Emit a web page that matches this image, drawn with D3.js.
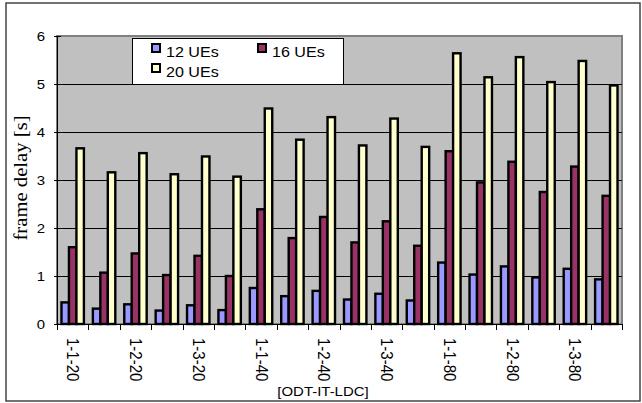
<!DOCTYPE html>
<html>
<head>
<meta charset="utf-8">
<script src="https://cdn.jsdelivr.net/npm/d3@7"></script>
<style>
  body { margin: 0; background: #fff; }
  text { font-family: "Liberation Sans", Arial, sans-serif; fill: #000; }
</style>
</head>
<body>
<div id="chart"></div>
<script>
// Data
const tickLabels = ['1-1-20', '', '1-2-20', '', '1-3-20', '', '1-1-40', '', '1-2-40', '',
  '1-3-40', '', '1-1-80', '', '1-2-80', '', '1-3-80', ''];
const seriesNames = ['12 UEs', '16 UEs', '20 UEs'];
const ue12 = [0.45, 0.32, 0.41, 0.28, 0.39, 0.29, 0.75, 0.58, 0.69, 0.51, 0.63, 0.49, 1.28, 1.03, 1.20, 0.97, 1.15, 0.93];
const ue16 = [1.60, 1.07, 1.47, 1.02, 1.42, 1.00, 2.39, 1.79, 2.23, 1.70, 2.14, 1.63, 3.60, 2.95, 3.38, 2.75, 3.28, 2.67];
const ue20 = [3.66, 3.16, 3.56, 3.12, 3.49, 3.07, 4.49, 3.84, 4.31, 3.72, 4.28, 3.69, 5.64, 5.14, 5.56, 5.04, 5.48, 4.97];
const yTicks = [0, 1, 2, 3, 4, 5, 6];

const colors = ['#9999ff', '#993366', '#ffffcc'];
const values = [ue12, ue16, ue20];
const groups = tickLabels.map((d, i) => i);

const width = 642;
const height = 403;
const plot = { left: 57, right: 622, top: 36, bottom: 324 };
const sx = 1.15; // the source text looks stretched sideways

const svg = d3.select('#chart').append('svg')
  .attr('width', width)
  .attr('height', height);

// outer chart border
svg.append('rect')
  .attr('x', 6).attr('y', 3)
  .attr('width', 634).attr('height', 398)
  .attr('fill', 'white')
  .attr('stroke', '#444')
  .attr('stroke-width', 1.5);

// scales
const xScale = d3.scaleBand().domain(groups).range([plot.left, plot.right]).padding(0);
const xInner = d3.scaleBand().domain(d3.range(seriesNames.length))
  .range([0, xScale.bandwidth()]).paddingInner(0).paddingOuter(0.6);
const yScale = d3.scaleLinear().domain([0, 6]).range([plot.bottom, plot.top]);

// plot area
svg.append('rect')
  .attr('x', plot.left).attr('y', plot.top)
  .attr('width', plot.right - plot.left).attr('height', plot.bottom - plot.top)
  .attr('fill', '#c0c0c0')
  .attr('stroke', '#808080')
  .attr('stroke-width', 2);

// gridlines
svg.append('g').selectAll('line')
  .data(yTicks.filter(t => t > 0 && t < 6))
  .enter().append('line')
  .attr('x1', plot.left).attr('x2', plot.right)
  .attr('y1', d => Math.round(yScale(d)) + 0.5)
  .attr('y2', d => Math.round(yScale(d)) + 0.5)
  .attr('stroke', '#000');

// bars
const bars = svg.append('g');
groups.forEach(gi => {
  seriesNames.forEach((s, si) => {
    const v = values[si][gi];
    bars.append('rect')
      .attr('x', xScale(gi) + xInner(si))
      .attr('y', yScale(v))
      .attr('width', xInner.bandwidth())
      .attr('height', yScale(0) - yScale(v))
      .attr('fill', colors[si])
      .attr('stroke', '#000')
      .attr('stroke-width', 2.4);
  });
});

// y axis
const yAxis = svg.append('g');
yAxis.append('line')
  .attr('x1', plot.left + 0.5).attr('x2', plot.left + 0.5)
  .attr('y1', plot.top).attr('y2', plot.bottom)
  .attr('stroke', '#000');
yAxis.selectAll('.tick')
  .data(yTicks)
  .enter().append('line')
  .attr('x1', plot.left - 3).attr('x2', plot.left + 4)
  .attr('y1', d => Math.round(yScale(d)) + 0.5)
  .attr('y2', d => Math.round(yScale(d)) + 0.5)
  .attr('stroke', '#000');
yAxis.selectAll('text')
  .data(yTicks)
  .enter().append('text')
  .attr('transform', d => `translate(45,${yScale(d) + 5}) scale(${sx},1)`)
  .attr('text-anchor', 'end')
  .attr('font-size', 13)
  .text(d => d);

// x axis
const xAxis = svg.append('g');
xAxis.append('line')
  .attr('x1', plot.left).attr('x2', plot.right + 1)
  .attr('y1', plot.bottom + 0.5).attr('y2', plot.bottom + 0.5)
  .attr('stroke', '#000');
xAxis.selectAll('.tick')
  .data(groups.concat([groups.length]))
  .enter().append('line')
  .attr('x1', d => Math.round(plot.left + d * xScale.step()) + 0.5)
  .attr('x2', d => Math.round(plot.left + d * xScale.step()) + 0.5)
  .attr('y1', plot.bottom).attr('y2', plot.bottom + 6)
  .attr('stroke', '#000');
xAxis.selectAll('text')
  .data(groups.filter(d => tickLabels[d] !== ''))
  .enter().append('text')
  .attr('transform', d => `translate(${xScale(d) + xScale.bandwidth() / 2 - 5.5},338) scale(${sx},1) rotate(90)`)
  .attr('font-size', 15)
  .text(d => tickLabels[d]);

// axis titles
svg.append('text')
  .attr('transform', `translate(323,396) scale(${sx},1)`)
  .attr('text-anchor', 'middle')
  .attr('font-size', 13)
  .text('[ODT-IT-LDC]');

svg.append('text')
  .attr('transform', 'translate(27,178) scale(1,1.15) rotate(-90)')
  .attr('text-anchor', 'middle')
  .attr('font-size', 18)
  .style('font-family', '"Liberation Serif", "Times New Roman", serif')
  .text('frame delay [s]');

// legend
const legend = svg.append('g');
legend.append('rect')
  .attr('x', 132.5).attr('y', 38.5)
  .attr('width', 211).attr('height', 46)
  .attr('fill', 'white')
  .attr('stroke', '#000');
const legendPos = [[152, 44], [258, 44], [152, 64]];
seriesNames.forEach((s, i) => {
  const [lx, ly] = legendPos[i];
  legend.append('rect')
    .attr('x', lx).attr('y', ly)
    .attr('width', 8).attr('height', 8)
    .attr('fill', colors[i])
    .attr('stroke', '#000')
    .attr('stroke-width', 2);
  legend.append('text')
    .attr('transform', `translate(${lx + 14},${ly + 13}) scale(${sx},1)`)
    .attr('font-size', 14)
    .text(s);
});
</script>
</body>
</html>
